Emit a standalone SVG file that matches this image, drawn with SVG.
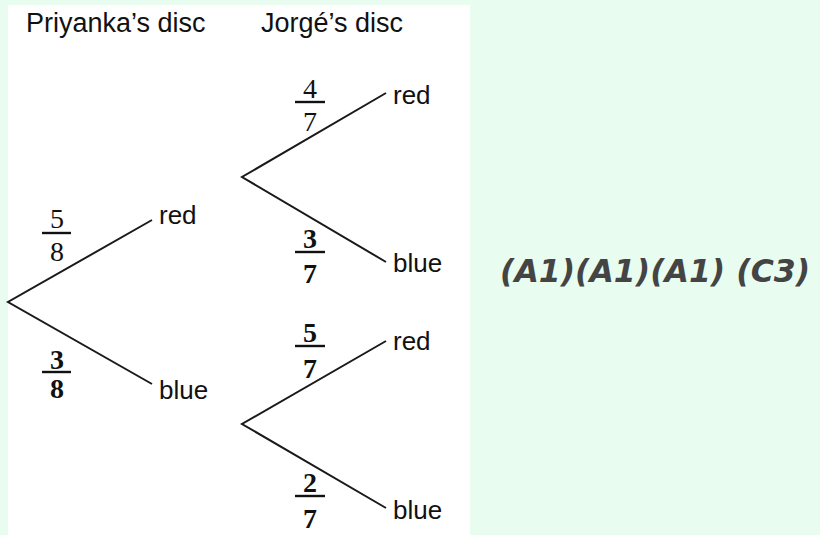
<svg xmlns="http://www.w3.org/2000/svg" width="820" height="535" viewBox="0 0 820 535">
<style>
.hd{font-family:"Liberation Sans",Arial,sans-serif;font-size:27px;fill:#111}
.lf{font-family:"Liberation Sans",Arial,sans-serif;font-size:26px;fill:#111}
.fr{font-family:"Liberation Serif","Times New Roman",serif;font-size:28px;fill:#111;text-anchor:middle}
.b{font-weight:bold}
.bar{stroke:#111;stroke-width:2.4}
.br{stroke:#1a1a1a;stroke-width:2;fill:none}
.mk{font-family:"DejaVu Sans",Verdana,sans-serif;font-size:31.5px;font-weight:bold;font-style:italic;fill:#444}
</style>
<rect width="820" height="535" fill="#e8fcef"/>
<rect x="8" y="5" width="462" height="530" fill="#fff"/>
<g id="headers">
<text class="hd" x="26" y="32">Priyanka’s disc</text>
<text class="hd" x="261" y="32">Jorgé’s disc</text>
</g>
<g id="connectors">
<path class="br" d="M152,220 L8,302 L152,384"/>
<path class="br" d="M386,93 L242,177 L386,262"/>
<path class="br" d="M386,341 L242,424 L386,508"/>
</g>
<g id="root-red">
<text class="lf" x="159" y="224">red</text>
<text class="fr" x="57" y="228">5</text><line class="bar" x1="42" y1="233" x2="71" y2="233"/><text class="fr" x="57" y="261">8</text>
</g>
<g id="root-blue">
<text class="lf" x="159" y="399">blue</text>
<text class="fr b" x="57" y="369">3</text><line class="bar" x1="42" y1="372" x2="71" y2="372"/><text class="fr b" x="57" y="398">8</text>
</g>
<g id="red-red">
<text class="lf" x="393" y="104">red</text>
<text class="fr" x="310" y="98">4</text><line class="bar" x1="295" y1="102" x2="325" y2="102"/><text class="fr" x="310" y="131">7</text>
</g>
<g id="red-blue">
<text class="lf" x="393" y="272">blue</text>
<text class="fr b" x="310" y="248">3</text><line class="bar" x1="295" y1="252" x2="325" y2="252"/><text class="fr b" x="310" y="283">7</text>
</g>
<g id="blue-red">
<text class="lf" x="393" y="350">red</text>
<text class="fr b" x="310" y="342">5</text><line class="bar" x1="295" y1="346" x2="325" y2="346"/><text class="fr b" x="310" y="378">7</text>
</g>
<g id="blue-blue">
<text class="lf" x="393" y="519">blue</text>
<text class="fr b" x="310" y="492">2</text><line class="bar" x1="295" y1="496" x2="325" y2="496"/><text class="fr b" x="310" y="528">7</text>
</g>
<text class="mk" x="500" y="282">(A1)(A1)(A1) (C3)</text>
</svg>
